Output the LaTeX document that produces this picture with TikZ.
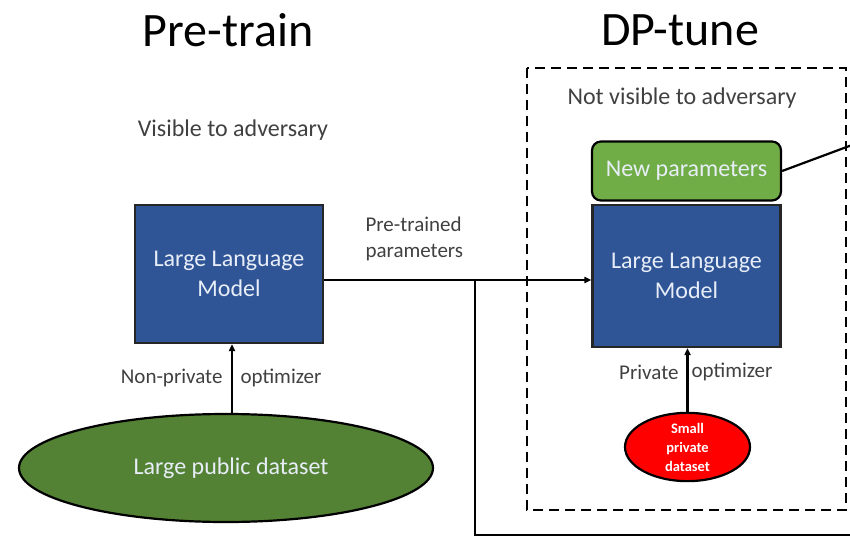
\documentclass[tikz,border=0pt]{standalone}
\usepackage{fontspec}
\setmainfont{Carlito}
\usetikzlibrary{shapes.geometric,arrows.meta}
\definecolor{llmblue}{HTML}{2F5597}
\definecolor{darkgreen}{HTML}{548235}
\definecolor{lightgreen}{HTML}{70AD47}
\definecolor{labelgrey}{HTML}{404040}
\definecolor{boxtext}{HTML}{E8EEF8}
\tikzset{
  x=1pt, y=-1pt,
  title/.style={font=\fontsize{48}{52}\selectfont, text=black},
  caption/.style={font=\fontsize{24}{28}\selectfont, text=labelgrey},
  small/.style={font=\fontsize{21}{26}\selectfont, text=labelgrey},
  llm/.style={draw=black!85, line width=2.2pt, fill=llmblue, text=boxtext,
    minimum width=188pt, align=center, font=\fontsize{24}{29}\selectfont},
  conn/.style={line width=2.2pt, draw=black},
  tip/.style={-{Triangle[length=7pt,width=6pt]}},
}
\begin{document}
\begin{tikzpicture}
\useasboundingbox (0,0) rectangle (850,537);

% titles
\node[title] (t1) at (228,30) {Pre-train};
\node[title] (t2) at (680,30) {DP-tune};

% pre-training side
\node[caption] (vis) at (233,130) {Visible to adversary};
\node[llm, minimum height=138pt] (llm1) at (229,274) {Large Language\\[1pt]Model};
\node[ellipse, draw=black, line width=2.2pt, fill=darkgreen, text=boxtext,
      minimum width=414pt, minimum height=108pt,
      font=\fontsize{24}{28}\selectfont] (pub) at (226,468) {\hspace*{10pt}Large public dataset};
\draw[conn, tip] (pub.north -| llm1.south) ++(3,0) coordinate (a1) -- (a1 |- llm1.south);
\node[small, anchor=east] (np) at (226,378) {Non-private};
\node[small, anchor=west] (opt1) at (237,378) {optimizer};

% DP-tune side
\draw[line width=2.2pt, dash pattern=on 10pt off 6pt] (527,68) rectangle (846,510);
\node[caption, anchor=west] (nvis) at (564,98) {Not visible to adversary};
\node[llm, minimum height=142pt] (llm2) at (686.5,276) {Large Language\\[1pt]Model};
\node[draw=black, line width=2.2pt, fill=lightgreen, text=boxtext, rounded corners=9pt,
      minimum width=189pt, minimum height=59pt,
      font=\fontsize{24}{28}\selectfont] (newp) at (686.5,171) {New parameters};
\node[ellipse, draw=black, line width=2.2pt, fill=red, text=white,
      minimum width=125pt, minimum height=65pt, inner sep=0pt, align=center,
      font=\bfseries\fontsize{14.5}{19}\selectfont] (priv) at (687.5,447) {Small\\private\\dataset};
\draw[conn, tip] (priv.north) -- (priv.north |- llm2.south);
\node[small, anchor=east] (pl) at (682,372) {Private};
\node[small, anchor=west] (opt2) at (688,372) {optimizer};

% parameter flow
\coordinate (br) at (475,280);
\coordinate (bend) at (475,535);
\coordinate (exitb) at (852,535);
\coordinate (exitt) at (852,145);
\draw[conn, tip] (llm1.east |- br) -- (llm2.west |- br);
\draw[conn] (br) -- (bend) -- (exitb);
\draw[conn] (newp.east) -- (exitt);
\node[small, align=left, anchor=west] (ptp) at (362,239) {Pre-trained\\parameters};
\end{tikzpicture}
\end{document}
